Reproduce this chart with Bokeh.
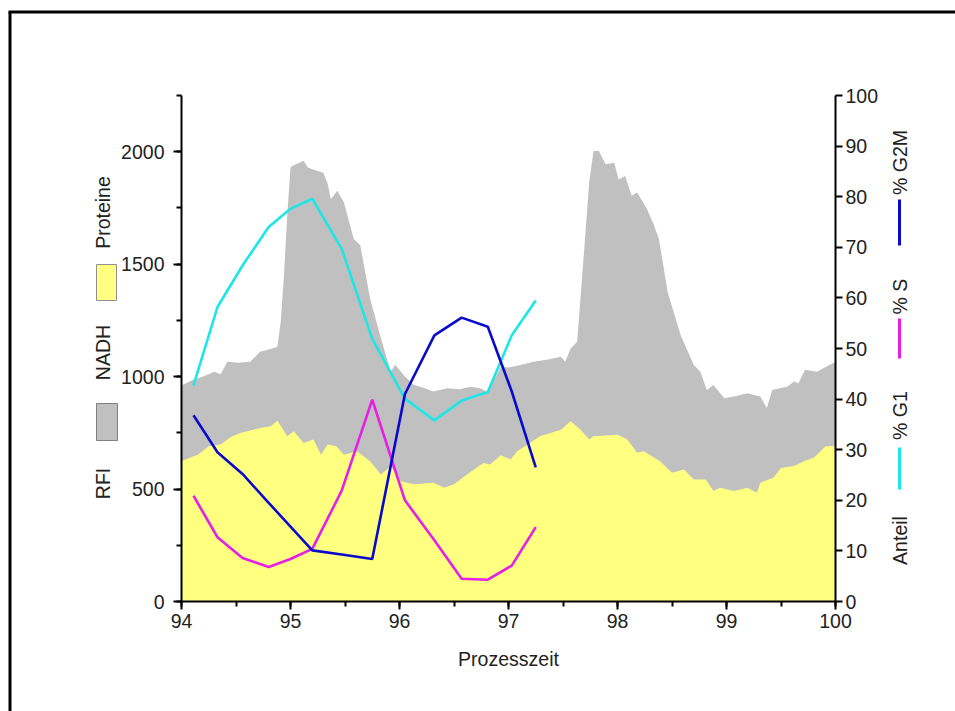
import math
from bokeh.plotting import figure
from bokeh.models import (Range1d, LinearAxis, SingleIntervalTicker, Label,
                          BoxAnnotation, ColumnDataSource)
from bokeh.embed import file_html
from bokeh.resources import INLINE

# ---------------- data ----------------
nadh_t = [94.00, 94.10, 94.20, 94.30, 94.36, 94.42, 94.52, 94.63, 94.72, 94.80,
          94.88, 94.91, 94.94, 94.97, 95.00, 95.02, 95.12, 95.16, 95.20, 95.30,
          95.34, 95.37, 95.43, 95.49, 95.58, 95.64, 95.73, 95.83, 95.92, 95.96,
          96.05, 96.13, 96.22, 96.31, 96.44, 96.55, 96.65, 96.74, 96.80, 96.86,
          96.93, 97.00, 97.10, 97.23, 97.35, 97.48, 97.52, 97.57, 97.63, 97.66,
          97.70, 97.74, 97.78, 97.83, 97.89, 97.97, 98.01, 98.07, 98.13, 98.18,
          98.27, 98.33, 98.38, 98.46, 98.52, 98.58, 98.70, 98.76, 98.82, 98.88,
          98.98, 99.07, 99.19, 99.31, 99.37, 99.42, 99.56, 99.62, 99.66, 99.72,
          99.83, 100.00]
nadh_v = [960, 985, 1000, 1022, 1010, 1066, 1062, 1066, 1110, 1120,
          1133, 1243, 1450, 1717, 1930, 1938, 1960, 1930, 1922, 1907,
          1860, 1789, 1827, 1774, 1612, 1584, 1347, 1170, 1022, 1053,
          1000, 964, 950, 934, 948, 944, 955, 948, 934, 978,
          1044, 1040, 1050, 1066, 1075, 1088, 1066, 1125, 1155, 1347,
          1600, 1863, 2003, 2003, 1944, 1951, 1877, 1892, 1804, 1819,
          1745, 1680, 1612, 1376, 1280, 1184, 1052, 1022, 941, 963,
          904, 912, 926, 912, 860, 941, 956, 978, 970, 1030,
          1022, 1066]

prot_t = [94.00, 94.08, 94.15, 94.25, 94.36, 94.45, 94.54, 94.63, 94.72, 94.82,
          94.88, 94.97, 95.03, 95.12, 95.21, 95.28, 95.34, 95.42, 95.49, 95.61,
          95.73, 95.83, 95.92, 96.01, 96.13, 96.31, 96.41, 96.50, 96.62, 96.77,
          96.83, 96.93, 97.02, 97.08, 97.29, 97.48, 97.57, 97.66, 97.74, 97.78,
          98.00, 98.09, 98.18, 98.24, 98.39, 98.50, 98.61, 98.70, 98.81, 98.88,
          98.94, 99.07, 99.19, 99.28, 99.31, 99.43, 99.50, 99.62, 99.71, 99.80,
          99.91, 100.00]
prot_v = [624, 640, 653, 690, 698, 730, 749, 760, 771, 779,
          804, 735, 757, 705, 720, 653, 698, 690, 653, 668,
          624, 565, 602, 535, 521, 528, 506, 521, 565, 616,
          609, 650, 631, 668, 735, 764, 801, 764, 720, 735,
          742, 720, 661, 668, 624, 572, 587, 543, 543, 491,
          506, 491, 506, 484, 528, 550, 594, 602, 624, 639,
          690, 690]

cell_t = [94.11, 94.33, 94.56, 94.80, 95.00, 95.20, 95.47, 95.75, 96.05, 96.32,
          96.57, 96.81, 97.03, 97.25]
g1 = [42.7, 58.2, 66.4, 74.0, 77.6, 79.6, 69.7, 51.9, 40.1, 35.8, 39.7, 41.4, 52.6, 59.5]
s_phase = [20.9, 12.7, 8.6, 6.8, 8.4, 10.4, 21.9, 39.9, 20.0, 12.1, 4.5, 4.3, 7.1, 14.7]
g2m = [36.8, 29.5, 25.2, 19.5, 14.8, 10.1, 9.3, 8.4, 41.0, 52.6, 56.1, 54.3, 41.5, 26.5]

# ---------------- layout ----------------
W, H = 955, 711
FL, FR, FT, FB = 181, 835, 95, 601          # axes box in screen px
X0, X1, Y0, Y1, P0, P1 = 94.0, 100.0, 0.0, 2250.0, 0.0, 100.0

def dx(px):
    return X0 + (px - FL) * (X1 - X0) / (FR - FL)

def dy(py):
    return Y0 + (FB - py) * (Y1 - Y0) / (FB - FT)

def dp(py):
    return P0 + (FB - py) * (P1 - P0) / (FB - FT)

FONT = "Liberation Sans"
FS = "19.5px"
TXT = "#222222"

# the frame covers the whole canvas; axes are pinned with fixed_location
p = figure(width=W, height=H, x_range=Range1d(dx(0), dx(W)), y_range=Range1d(dy(H), dy(0)),
           output_backend="svg", toolbar_location=None, x_axis_type=None, y_axis_type=None,
           min_border=0)
p.extra_y_ranges = {"pct": Range1d(dp(H), dp(0))}
p.xgrid.visible = False
p.ygrid.visible = False
p.outline_line_color = None
p.background_fill_color = "white"
p.border_fill_color = "white"

def style_axis(ax, minor_out):
    ax.axis_line_color = "black"
    ax.axis_line_width = 2
    ax.major_tick_line_color = "black"
    ax.major_tick_line_width = 2
    ax.major_tick_in = 0
    ax.major_tick_out = 8
    ax.minor_tick_line_color = "black"
    ax.minor_tick_line_width = 2
    ax.minor_tick_in = 0
    ax.minor_tick_out = minor_out
    ax.major_label_text_font = FONT
    ax.major_label_text_font_size = FS
    ax.major_label_text_color = TXT

xax = LinearAxis(ticker=SingleIntervalTicker(interval=1, num_minor_ticks=2),
                 fixed_location=Y0, bounds=(X0, X1))
style_axis(xax, 5)
xax.major_label_standoff = 4
xax.axis_label = "Prozesszeit"
xax.axis_label_text_font = FONT
xax.axis_label_text_font_size = FS
xax.axis_label_text_font_style = "normal"
xax.axis_label_text_color = TXT
xax.axis_label_standoff = 17
p.add_layout(xax, "below")

yax = LinearAxis(ticker=SingleIntervalTicker(interval=500, num_minor_ticks=2),
                 fixed_location=X0, bounds=(Y0, Y1))
style_axis(yax, 5)
yax.major_label_standoff = 9
p.add_layout(yax, "left")

rax = LinearAxis(y_range_name="pct", ticker=SingleIntervalTicker(interval=10, num_minor_ticks=0),
                 fixed_location=X1, bounds=(P0, P1))
style_axis(rax, 0)
rax.major_tick_out = 7
rax.major_label_standoff = 3
p.add_layout(rax, "right")

# ---------------- areas ----------------
src_n = ColumnDataSource(dict(t=nadh_t, v=nadh_v))
src_p = ColumnDataSource(dict(t=prot_t, v=prot_v))
p.varea(x="t", y1=0, y2="v", source=src_n, fill_color="#C0C0C0")
p.varea(x="t", y1=0, y2="v", source=src_p, fill_color="#FFFF80")

# ---------------- lines ----------------
C_G1, C_S, C_G2M = "#1EE6E6", "#E61EE6", "#0A0ACD"
p.line(cell_t, g1, y_range_name="pct", line_color=C_G1, line_width=2.6)
p.line(cell_t, s_phase, y_range_name="pct", line_color=C_S, line_width=2.6)
p.line(cell_t, g2m, y_range_name="pct", line_color=C_G2M, line_width=2.6)

# ---------------- legends (vertical) ----------------
def vlabel(text, xc, yc):
    p.add_layout(Label(x=dx(xc), y=dy(yc), text=text, angle=math.pi / 2,
                       text_align="center", text_baseline="middle",
                       text_font=FONT, text_font_size=FS, text_color=TXT))

def box(x0, x1, y0, y1, fill, line=None, lw=1):
    p.add_layout(BoxAnnotation(left=dx(x0), right=dx(x1), top=dy(y0), bottom=dy(y1),
                               fill_color=fill if fill else "white", fill_alpha=1.0 if fill else 0,
                               line_color=line if line else "white", line_width=lw,
                               line_alpha=1.0 if line else 0))

# left legend
vlabel("Proteine", 102, 212)
box(96, 116, 264, 300, "#FFFF80", "#909090", 1)
vlabel("NADH", 102, 352)
box(96, 117, 403, 440, "#C0C0C0", "#808080", 1)
vlabel("RFI", 102, 483)

# right legend
vlabel("% G2M", 899, 162)
box(897.5, 900.5, 199, 245, C_G2M)
vlabel("% S", 899, 296)
box(897.5, 900.5, 318, 358, C_S)
vlabel("% G1", 899, 415)
box(897.5, 900.5, 447, 489, C_G1)
vlabel("Anteil", 899, 540)

# outer frame: left and top edges (it continues past the window)
p.segment(x0=[dx(9.5), dx(8)], y0=[dy(H + 5), dy(11.5)],
          x1=[dx(9.5), dx(W + 5)], y1=[dy(11.5), dy(11.5)],
          line_color="black", line_width=3)

open("out.html", "w").write(file_html(p, INLINE))
